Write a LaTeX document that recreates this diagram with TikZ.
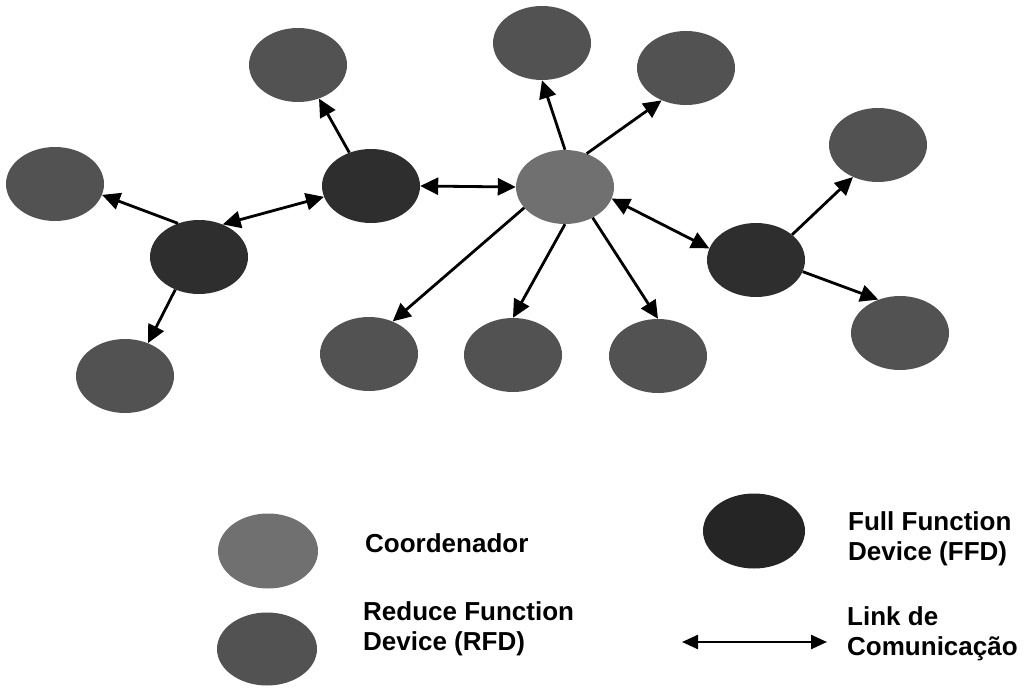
\documentclass[tikz,border=0pt]{standalone}
\usepackage{fontspec}
\setmainfont{Liberation Sans}
\usetikzlibrary{shapes.geometric,arrows.meta}
\definecolor{rfdgray}{HTML}{525252}
\definecolor{coordgray}{HTML}{707070}
\definecolor{ffdgray}{HTML}{2E2E2E}
\begin{document}
\begin{tikzpicture}[x=1pt,y=-1pt,
  dev/.style={ellipse,minimum width=98pt,minimum height=74pt,inner sep=0pt,draw=none},
  rfd/.style={dev,fill=rfdgray},
  coord/.style={dev,fill=coordgray},
  ffd/.style={dev,fill=ffdgray},
  link/.style={line width=2.8pt,-{Triangle[length=18pt,width=17pt]}},
  duplex/.style={line width=2.8pt,{Triangle[length=18pt,width=17pt]}-{Triangle[length=18pt,width=17pt]}},
  legtext/.style={anchor=base west,inner sep=0pt,font=\bfseries\fontsize{26}{30}\selectfont,align=left}
]
\useasboundingbox (0,0) rectangle (1026,688);

% network devices
\node[rfd]   (A) at (298,65)  {};
\node[rfd]   (B) at (55,184)  {};
\node[ffd]   (C) at (199,257) {};
\node[rfd]   (D) at (125,376) {};
\node[ffd]   (E) at (371,186) {};
\node[rfd]   (F) at (369,354) {};
\node[rfd]   (G) at (513,355) {};
\node[rfd]   (H) at (542,43)  {};
\node[rfd]   (I) at (686,68)  {};
\node[coord] (J) at (565,187) {};
\node[rfd]   (K) at (878,145) {};
\node[ffd]   (L) at (756,260) {};
\node[rfd]   (M) at (900,333) {};
\node[rfd]   (N) at (658,356) {};

% communication links
\draw[link]   (E.123)  -- (A.-58);
\draw[link]   (C.122)  -- (B.-13);
\draw[duplex] (C.54)   -- (E.193);
\draw[link]   (C.-126) -- (D.55);
\draw[duplex] (E.east) -- (J.west);
\draw[link]   (J.207)  -- (F.54);
\draw[link]   (J.south) -- (G.north);
\draw[link]   (J.-48)  -- (N.north);
\draw[link]   (J.north) -- (H.south);
\draw[link]   (J.57)   -- (I.-127);
\draw[duplex] (J.-14)  -- (L.166);
\draw[link]   (L.35)   -- (K.-128);
\draw[link]   (L.-14)  -- (M.123);

% legend
\node[coord,minimum width=100pt,minimum height=75pt] (lc) at (268,551) {};
\node[rfd,minimum width=100pt,minimum height=73pt]   (lr) at (267,649) {};
\node[ffd,minimum width=102pt,minimum height=75pt,fill=ffdgray!80!black] (lf) at (754,531) {};
\coordinate (la) at (682,642);
\coordinate (lb) at (827,642);
\draw[line width=2.4pt,{Triangle[length=16pt,width=14pt]}-{Triangle[length=16pt,width=14pt]}] (la) -- (lb);

\node[legtext] (tc) at (365,552) {Coordenador};
\node[legtext] (tr) at (363,650) {Reduce Function\\Device (RFD)};
\node[legtext] (tf) at (848,560) {Full Function\\Device (FFD)};
\node[legtext] (tl) at (847,655) {Link de\\Comunicação};
\end{tikzpicture}
\end{document}
